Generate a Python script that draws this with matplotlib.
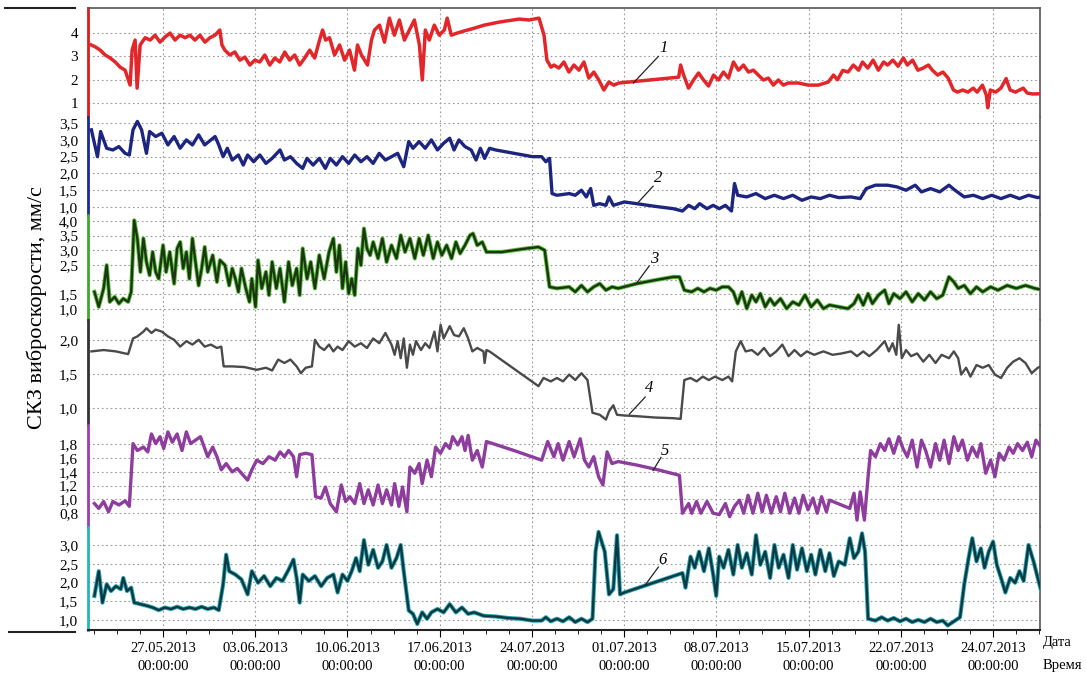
import matplotlib
matplotlib.use("Agg")
import matplotlib.pyplot as plt
from matplotlib.lines import Line2D
from matplotlib.ticker import FixedLocator, FixedFormatter, MultipleLocator

plt.rcParams['font.family'] = ['Liberation Serif', 'DejaVu Serif']

# время: сутки от 27.05.2013 00:00
date_ticks = [0, 7, 14, 21, 28, 35, 42, 49, 56, 63]
date_labels = ['27.05.2013\n00:00:00', '03.06.2013\n00:00:00', '10.06.2013\n00:00:00',
               '17.06.2013\n00:00:00', '24.07.2013\n00:00:00', '01.07.2013\n00:00:00',
               '08.07.2013\n00:00:00', '15.07.2013\n00:00:00', '22.07.2013\n00:00:00',
               '24.07.2013\n00:00:00']

# 1 - красная
t1 = [-5.45, -5.15, -4.77, -4.39, -4.01, -3.63, -3.26, -2.88, -2.5, -2.35, -2.12, -1.97, -1.74, -1.36,
      -0.98, -0.61, -0.23, 0.15, 0.53, 0.91, 1.29, 1.67, 2.04, 2.42, 2.8, 3.18, 3.56, 3.94, 4.31, 4.47,
      4.69, 5.07, 5.45, 5.83, 6.21, 6.59, 6.96, 7.34, 7.72, 8.1, 8.48, 8.86, 9.24, 9.61, 9.99, 10.37,
      10.75, 11.13, 11.51, 11.88, 12.11, 12.34, 12.64, 13.02, 13.4, 13.78, 14.16, 14.53, 14.76, 15.06,
      15.52, 15.82, 16.05, 16.43, 16.81, 17.18, 17.56, 17.94, 18.32, 18.7, 19.08, 19.46, 19.68, 19.91,
      20.21, 20.59, 20.97, 21.35, 21.57, 21.88, 22.33, 22.86, 23.62, 24.38, 25.51, 27.03, 27.78, 28.54,
      28.92, 29.14, 29.45, 29.67, 30.05, 30.43, 30.81, 31.19, 31.57, 31.95, 32.32, 32.7, 33.08, 33.46,
      33.84, 34.22, 34.6, 39.14, 39.29, 39.52, 39.89, 40.27, 40.65, 41.03, 41.41, 41.79, 42.16, 42.54,
      42.92, 43.3, 43.68, 44.06, 44.44, 44.81, 45.19, 45.57, 45.95, 46.33, 46.71, 47.09, 47.46, 48.22,
      48.98, 49.74, 50.49, 50.9, 51.2, 51.6, 52.0, 52.4, 52.8, 53.1, 53.5, 53.9, 54.3, 54.7, 55.0, 55.4,
      55.8, 56.2, 56.5, 56.9, 57.3, 57.7, 58.1, 58.4, 58.8, 59.2, 59.6, 60.0, 60.3, 60.7, 61.1, 61.5,
      61.8, 62.2, 62.5, 62.6, 62.8, 63.2, 63.6, 64.0, 64.3, 64.7, 65.3, 65.6, 66.0, 66.6]
v1 = [3.49, 3.41, 3.27, 3.06, 2.93, 2.76, 2.54, 2.41, 1.77, 3.27, 3.7, 1.64, 3.49, 3.8,
      3.7, 3.91, 3.61, 3.83, 4.0, 3.7, 3.91, 3.8, 3.91, 3.7, 3.91, 3.61, 3.8, 3.91, 4.13, 3.49,
      3.27, 3.06, 3.19, 2.84, 2.97, 2.63, 2.84, 2.76, 3.06, 2.63, 2.93, 2.76, 3.19, 2.84, 3.06, 2.63,
      2.93, 3.27, 2.93, 3.7, 4.13, 3.7, 3.8, 3.06, 3.49, 2.84, 3.27, 2.41, 3.49, 3.06,
      2.63, 3.7, 4.13, 4.34, 3.61, 4.64, 3.91, 4.56, 3.7, 4.13, 4.56, 3.49, 1.99, 4.13,
      3.7, 4.34, 3.91, 4.13, 4.64, 3.91, 4.0, 4.09, 4.21, 4.34, 4.47, 4.6, 4.56, 4.64,
      3.91, 2.84, 2.54, 2.63, 2.5, 2.76, 2.33, 2.63, 2.41, 2.76, 2.07, 2.33, 1.99, 1.56,
      1.9, 1.77, 1.86, 2.11, 2.63, 2.2, 1.64, 1.99, 2.29, 1.99, 1.73, 2.2, 1.99, 2.33,
      2.07, 2.76, 2.41, 2.63, 2.33, 2.41, 2.2, 1.99, 2.07, 1.77, 1.99, 1.77, 1.86, 1.86,
      1.77, 1.77, 1.9, 2.2, 2.0, 2.4, 2.33, 2.63, 2.41, 2.76, 2.5, 2.84, 2.41, 2.76, 2.63, 2.84,
      2.58, 2.93, 2.63, 2.84, 2.41, 2.5, 2.63, 2.41, 2.2, 2.33, 2.07, 1.56, 1.47, 1.56, 1.47, 1.64,
      1.47, 1.77, 1.34, 0.8, 1.56, 1.47, 1.64, 2.05, 1.56, 1.47, 1.64, 1.43, 1.39, 1.4]

# 2 - синяя
t2 = [-5.44, -4.98, -4.74, -4.28, -3.81, -3.35, -2.88, -2.56, -2.28, -1.95, -1.63, -1.26, -1.02, -0.56,
      -0.09, 0.37, 0.84, 1.3, 1.77, 2.23, 2.7, 3.16, 3.63, 3.95, 4.23, 4.56, 4.88, 5.25, 5.72, 6.09,
      6.42, 6.88, 7.35, 7.81, 8.28, 8.88, 9.21, 9.67, 10.14, 10.6, 10.93, 11.39, 11.86, 12.32, 12.69,
      13.16, 13.62, 14.09, 14.55, 15.02, 15.48, 15.95, 16.41, 16.88, 17.34, 17.81, 18.27, 18.65, 18.97,
      19.44, 19.9, 20.37, 20.83, 21.3, 21.76, 22.09, 22.46, 22.92, 23.39, 23.76, 24.09, 24.41, 24.78,
      25.25, 26.64, 28.04, 28.74, 29.06, 29.34, 29.53, 29.9, 30.83, 31.29, 31.76, 32.13, 32.46, 32.69,
      33.15, 33.62, 33.85, 34.18, 35.01, 35.94, 37.34, 38.73, 39.43, 39.9, 40.36, 40.73, 41.29, 41.76,
      42.22, 42.69, 43.15, 43.38, 43.62, 44.31, 45.01, 45.71, 46.41, 47.1, 47.8, 48.5, 49.2, 49.89,
      50.59, 51.29, 52.22, 52.92, 53.38, 54.08, 55.01, 55.71, 56.4, 57.1, 57.57, 58.26, 58.96, 59.66,
      60.12, 60.82, 61.52, 62.22, 62.91, 63.61, 64.31, 65.01, 65.7, 66.4, 66.87]
v2 = [3.3, 2.5, 3.25, 2.75, 2.7, 2.8, 2.6, 2.55, 3.3, 3.55, 3.3, 2.6, 3.25, 3.1,
      3.2, 2.85, 3.1, 2.75, 3.0, 2.85, 3.15, 2.85, 3.0, 3.1, 2.85, 2.5, 2.75, 2.4, 2.55, 2.25,
      2.55, 2.35, 2.55, 2.3, 2.45, 2.7, 2.4, 2.5, 2.3, 2.15, 2.45, 2.25, 2.45, 2.15, 2.45,
      2.25, 2.5, 2.3, 2.55, 2.35, 2.5, 2.3, 2.6, 2.4, 2.5, 2.6, 2.2, 2.95, 2.75,
      2.95, 2.75, 3.0, 2.7, 2.9, 3.05, 2.7, 3.0, 2.8, 2.7, 2.4, 2.75, 2.45, 2.75,
      2.7, 2.6, 2.5, 2.5, 2.35, 2.45, 1.4, 1.35, 1.4, 1.35, 1.5, 1.3, 1.55, 1.05,
      1.1, 1.05, 1.3, 1.05, 1.15, 1.1, 1.02, 0.95, 0.88, 1.05, 0.95, 1.1, 0.95, 1.05,
      0.95, 1.05, 0.88, 1.7, 1.35, 1.3, 1.4, 1.25, 1.35, 1.25, 1.35, 1.2, 1.3, 1.25,
      1.35, 1.28, 1.3, 1.25, 1.55, 1.65, 1.65, 1.6, 1.5, 1.65, 1.45, 1.55, 1.45, 1.65,
      1.5, 1.3, 1.35, 1.25, 1.35, 1.25, 1.35, 1.25, 1.35, 1.28, 1.32]

# 3 - зелёная
t3 = [-5.21, -4.88, -4.51, -4.28, -4.05, -3.67, -3.35, -3.02, -2.65, -2.42, -2.19, -1.95, -1.72, -1.49,
      -1.26, -1.02, -0.79, -0.56, -0.33, 0.0, 0.23, 0.51, 0.84, 1.07, 1.3, 1.53, 1.77, 2.0, 2.23, 2.46,
      2.7, 2.93, 3.16, 3.39, 3.77, 4.09, 4.32, 4.7, 5.02, 5.25, 5.49, 5.72, 5.95, 6.28, 6.56, 6.74,
      7.02, 7.21, 7.49, 7.81, 8.04, 8.28, 8.6, 8.88, 9.21, 9.53, 9.81, 10.14, 10.37, 10.6, 10.93,
      11.21, 11.53, 11.86, 12.23, 12.6, 12.93, 13.16, 13.39, 13.62, 13.86, 14.09, 14.32, 14.55, 14.79,
      15.02, 15.25, 15.48, 15.72, 15.95, 16.32, 16.65, 16.97, 17.34, 17.72, 18.04, 18.37, 18.74, 19.11,
      19.44, 19.76, 20.13, 20.51, 20.83, 21.16, 21.53, 21.9, 22.23, 22.55, 22.92, 23.3, 23.53, 23.85,
      24.23, 24.55, 25.71, 26.64, 27.57, 28.5, 28.97, 29.34, 29.9, 30.83, 31.29, 31.76, 32.22, 32.69,
      33.15, 33.62, 34.08, 34.55, 35.94, 37.34, 38.73, 39.2, 39.57, 40.13, 40.59, 41.06, 41.52, 41.99,
      42.45, 42.92, 43.29, 43.62, 43.94, 44.31, 44.69, 45.01, 45.34, 45.71, 46.08, 46.41, 46.87, 47.34,
      47.8, 48.27, 48.73, 49.2, 49.66, 50.13, 50.59, 51.29, 51.99, 52.45, 52.78, 53.15, 53.52, 53.85,
      54.31, 54.78, 55.1, 55.47, 55.94, 56.4, 56.87, 57.33, 57.8, 58.26, 58.73, 59.19, 59.66, 60.03,
      60.36, 60.82, 61.29, 61.75, 62.22, 62.82, 63.38, 64.08, 64.77, 65.47, 66.17, 66.87]
v3 = [1.58, 1.07, 1.7, 2.49, 1.24, 1.41, 1.18, 1.35, 1.24, 1.58, 4.02, 3.4, 2.26, 3.4,
      2.6, 2.15, 2.94, 2.26, 2.03, 3.17, 2.26, 2.94, 1.86, 3.06, 3.28, 2.38, 2.94, 2.03, 3.4, 2.6,
      1.8, 2.38, 3.11, 2.26, 2.83, 1.92, 2.66, 2.49, 1.8, 2.38, 2.03, 1.58, 2.38, 1.7, 1.24, 2.03,
      1.07, 2.66, 1.7, 2.26, 1.47, 2.6, 1.7, 2.38, 1.24, 2.6, 1.8, 2.38, 1.47, 3.06, 2.03,
      2.6, 1.7, 2.83, 2.03, 2.94, 3.4, 2.26, 3.17, 1.7, 2.6, 1.52, 2.03, 1.47, 3.06,
      2.49, 3.74, 3.06, 2.83, 3.28, 2.72, 3.4, 2.6, 3.17, 2.72, 3.51, 2.94, 3.4, 2.72,
      3.4, 2.83, 3.51, 2.72, 3.28, 2.83, 3.17, 2.72, 3.28, 2.89, 3.17, 3.51, 3.57, 3.17,
      3.28, 2.94, 2.94, 3.0, 3.06, 3.11, 3.0, 1.75, 1.7, 1.75, 1.58, 1.8, 1.58, 1.75,
      1.86, 1.64, 1.75, 1.7, 1.86, 1.98, 2.09, 2.09, 1.64, 1.58, 1.7, 1.58, 1.7, 1.64,
      1.75, 1.75, 1.58, 1.18, 1.58, 1.01, 1.47, 1.24, 1.52, 1.07, 1.35, 1.13, 1.35, 1.01,
      1.24, 1.13, 1.47, 1.07, 1.3, 1.01, 1.13, 1.07, 1.01, 1.18, 1.47, 1.13, 1.52, 1.18,
      1.47, 1.64, 1.18, 1.52, 1.35, 1.58, 1.24, 1.52, 1.3, 1.58, 1.35, 1.47, 2.09, 1.92,
      1.7, 1.8, 1.52, 1.75, 1.58, 1.75, 1.64, 1.8, 1.7, 1.8, 1.7, 1.64]

# 4 - серая
t4 = [-5.44, -4.51, -3.58, -2.65, -2.28, -1.95, -1.49, -1.26, -0.88, -0.56, -0.09, 0.37, 0.84, 1.3,
      1.77, 2.23, 2.7, 3.16, 3.63, 4.09, 4.42, 4.6, 5.25, 6.18, 7.11, 7.81, 8.28, 8.74, 9.21, 9.67,
      10.14, 10.46, 10.83, 11.3, 11.53, 11.86, 12.23, 12.6, 12.93, 13.25, 13.62, 14.09, 14.55, 15.02,
      15.48, 15.95, 16.41, 16.88, 17.34, 17.58, 17.81, 18.04, 18.27, 18.51, 18.74, 18.97, 19.2, 19.58,
      19.9, 20.23, 20.6, 20.83, 21.07, 21.3, 21.76, 22.09, 22.46, 22.83, 23.16, 23.48, 23.85, 24.32,
      24.41, 24.55, 24.78, 28.5, 28.88, 29.43, 29.9, 30.36, 30.83, 31.29, 31.76, 32.22, 32.6, 33.15,
      33.62, 33.85, 34.18, 34.46, 35.01, 35.94, 37.34, 38.73, 39.29, 39.57, 40.04, 40.5, 40.97, 41.43,
      41.9, 42.45, 42.92, 43.2, 43.48, 43.85, 44.22, 44.69, 45.15, 45.62, 46.08, 46.55, 47.01, 47.48,
      47.94, 48.41, 48.87, 49.43, 50.13, 50.82, 51.52, 52.22, 52.68, 53.15, 53.61, 54.17, 54.78, 55.1,
      55.38, 55.66, 55.85, 56.08, 56.4, 56.78, 57.24, 57.71, 58.17, 58.64, 59.1, 59.66, 60.03, 60.36,
      60.59, 60.96, 61.29, 61.75, 62.22, 62.68, 63.15, 63.61, 64.08, 64.54, 65.01, 65.47, 65.94, 66.4,
      66.87]
v4 = [1.83, 1.85, 1.83, 1.79, 2.02, 2.05, 2.12, 2.17, 2.1, 2.15, 2.12, 2.05, 2.0, 1.9,
      1.98, 1.93, 2.0, 1.9, 1.93, 1.88, 1.9, 1.61, 1.61, 1.6, 1.56, 1.59, 1.55, 1.71, 1.66, 1.71,
      1.61, 1.51, 1.59, 1.61, 2.0, 1.9, 1.85, 1.93, 1.83, 1.9, 1.85, 1.98, 1.9, 1.95,
      1.88, 2.02, 1.95, 2.1, 1.93, 1.78, 1.98, 1.73, 2.02, 1.59, 1.93, 1.78, 1.98, 1.85,
      1.95, 1.88, 2.12, 1.83, 2.22, 2.02, 2.2, 2.07, 2.05, 2.17, 2.02, 1.83, 1.88, 1.83,
      1.66, 1.85, 1.83, 1.32, 1.44, 1.39, 1.44, 1.39, 1.49, 1.41, 1.51, 1.41, 0.93, 0.9,
      0.83, 0.95, 1.04, 0.9, 0.89, 0.88, 0.86, 0.85, 0.84, 1.41, 1.44, 1.39, 1.46, 1.41,
      1.46, 1.41, 1.46, 1.39, 1.83, 1.98, 1.83, 1.85, 1.78, 1.88, 1.76, 1.83, 1.93, 1.76,
      1.85, 1.76, 1.83, 1.78, 1.83, 1.78, 1.8, 1.83, 1.76, 1.83, 1.76, 1.85, 1.98, 1.83,
      1.95, 1.78, 2.22, 1.73, 1.85, 1.76, 1.8, 1.68, 1.78, 1.66, 1.78, 1.73, 1.83, 1.73,
      1.49, 1.59, 1.46, 1.63, 1.59, 1.63, 1.49, 1.44, 1.59, 1.68, 1.73, 1.66, 1.51, 1.59,
      1.63]

# 5 - фиолетовая
t5 = [-5.21, -4.88, -4.51, -4.14, -3.81, -3.35, -2.88, -2.56, -2.28, -1.95, -1.49, -1.16, -0.88, -0.56,
      -0.23, 0.05, 0.37, 0.7, 1.07, 1.44, 1.77, 2.09, 2.46, 2.84, 3.16, 3.39, 3.77, 4.09, 4.42, 4.79,
      5.25, 5.63, 6.09, 6.42, 6.74, 7.11, 7.58, 8.04, 8.51, 8.88, 9.21, 9.53, 9.9, 10.14, 10.37, 10.83,
      11.3, 11.58, 12.0, 12.32, 12.69, 13.16, 13.53, 13.86, 14.18, 14.55, 14.93, 15.25, 15.58, 15.95,
      16.32, 16.65, 16.97, 17.34, 17.58, 17.9, 18.18, 18.51, 18.74, 19.11, 19.44, 19.67, 20.04, 20.37,
      20.69, 21.06, 21.44, 21.76, 21.99, 22.37, 22.69, 22.92, 23.16, 23.48, 23.85, 24.23, 24.55, 26.64,
      28.74, 29.2, 29.67, 29.99, 30.36, 30.83, 31.2, 31.67, 31.99, 32.32, 32.69, 33.06, 33.39, 33.71,
      34.08, 34.55, 35.94, 37.57, 39.2, 39.43, 39.9, 40.13, 40.5, 40.83, 41.29, 41.76, 42.22, 42.69,
      43.01, 43.38, 43.76, 44.08, 44.41, 44.78, 45.15, 45.48, 45.8, 46.17, 46.55, 46.87, 47.2, 47.57,
      47.94, 48.27, 48.59, 48.96, 49.34, 49.66, 49.99, 50.36, 50.59, 52.13, 52.45, 52.68, 52.92, 53.24,
      53.52, 53.71, 54.08, 54.45, 54.78, 55.1, 55.47, 55.85, 56.17, 56.5, 56.87, 57.24, 57.57, 57.89,
      58.26, 58.64, 58.96, 59.29, 59.66, 60.03, 60.36, 60.68, 61.06, 61.43, 61.8, 62.08, 62.45, 62.82,
      63.15, 63.47, 63.84, 64.22, 64.54, 64.87, 65.24, 65.61, 65.94, 66.26, 66.63, 66.87]
v5 = [0.94, 0.87, 0.97, 0.82, 0.97, 0.92, 0.98, 0.9, 1.81, 1.71, 1.76, 1.69, 1.95, 1.81,
      1.91, 1.74, 1.98, 1.83, 1.95, 1.71, 1.98, 1.81, 1.86, 1.91, 1.74, 1.62, 1.76, 1.62, 1.43, 1.52,
      1.4, 1.45, 1.35, 1.28, 1.43, 1.57, 1.52, 1.62, 1.57, 1.69, 1.62, 1.71, 1.62, 1.33, 1.65, 1.67,
      1.65, 1.04, 1.02, 1.18, 0.94, 0.82, 1.21, 0.97, 1.04, 0.94, 1.23, 0.94, 1.14, 0.92,
      1.21, 0.94, 1.14, 0.92, 1.23, 0.9, 1.18, 0.82, 1.47, 1.38, 1.52, 1.23, 1.57, 1.33,
      1.76, 1.67, 1.81, 1.74, 1.91, 1.79, 1.91, 1.71, 1.93, 1.57, 1.71, 1.47, 1.84, 1.71,
      1.57, 1.84, 1.62, 1.81, 1.57, 1.84, 1.62, 1.88, 1.57, 1.47, 1.62, 1.33, 1.21, 1.69,
      1.52, 1.55, 1.5, 1.43, 1.35, 0.8, 0.94, 0.8, 0.97, 0.8, 0.97, 0.8, 0.78, 0.94,
      0.75, 0.9, 0.99, 0.8, 1.06, 0.8, 1.09, 0.82, 1.06, 0.8, 1.04, 0.82, 1.09, 0.8,
      1.02, 0.8, 1.06, 0.85, 1.02, 0.8, 1.04, 0.82, 0.99, 0.87, 1.09, 0.7, 1.11, 0.7,
      1.33, 1.71, 1.62, 1.81, 1.71, 1.88, 1.67, 1.91, 1.74, 1.62, 1.86, 1.47, 1.86, 1.71,
      1.47, 1.81, 1.57, 1.86, 1.52, 1.91, 1.71, 1.86, 1.57, 1.76, 1.62, 1.81, 1.38, 1.57,
      1.33, 1.67, 1.57, 1.76, 1.67, 1.81, 1.71, 1.83, 1.62, 1.86, 1.76, 1.81]

# 6 - бирюзовая
t6 = [-5.21, -4.88, -4.6, -4.28, -3.95, -3.58, -3.21, -3.02, -2.74, -2.42, -2.19, -1.72, -1.26, -0.79,
      -0.33, 0.14, 0.6, 1.07, 1.53, 2.0, 2.46, 2.93, 3.39, 3.86, 4.23, 4.56, 4.79, 5.02, 5.49, 5.95,
      6.42, 6.74, 7.21, 7.67, 8.14, 8.6, 9.07, 9.53, 9.9, 10.14, 10.37, 10.6, 11.07, 11.53, 12.0, 12.46,
      12.93, 13.25, 13.62, 14.0, 14.32, 14.65, 14.93, 15.25, 15.58, 15.95, 16.32, 16.65, 16.97, 17.34,
      17.72, 18.04, 18.27, 18.65, 18.97, 19.3, 19.67, 20.04, 20.37, 20.83, 21.3, 21.76, 22.23, 22.69,
      23.16, 23.62, 24.32, 25.25, 26.18, 27.11, 28.04, 28.74, 29.06, 29.43, 29.9, 30.36, 30.83, 31.29,
      31.76, 32.22, 32.6, 32.83, 33.06, 33.29, 33.53, 33.85, 34.18, 34.46, 34.69, 35.01, 36.87, 39.43,
      39.66, 40.04, 40.36, 40.69, 41.06, 41.43, 41.76, 41.99, 42.22, 42.55, 42.92, 43.29, 43.62, 43.94,
      44.31, 44.69, 45.01, 45.34, 45.71, 46.08, 46.41, 46.73, 47.1, 47.48, 47.8, 48.13, 48.5, 48.87,
      49.2, 49.52, 49.89, 50.27, 50.59, 50.92, 51.29, 51.75, 52.13, 52.45, 52.78, 53.06, 53.29, 53.52,
      54.08, 54.54, 55.01, 55.47, 55.94, 56.4, 56.87, 57.33, 57.8, 58.26, 58.73, 59.19, 59.57, 60.12,
      60.5, 60.82, 61.15, 61.43, 61.75, 62.08, 62.36, 62.68, 63.01, 63.29, 63.61, 63.94, 64.31, 64.68,
      65.01, 65.33, 65.7, 66.08, 66.4, 66.73, 66.96]
v6 = [1.64, 2.3, 1.46, 1.95, 1.77, 1.9, 1.82, 2.12, 1.77, 1.86, 1.46, 1.42, 1.38, 1.33,
      1.26, 1.33, 1.29, 1.35, 1.29, 1.33, 1.29, 1.35, 1.29, 1.33, 1.26, 1.95, 2.74, 2.3, 2.21, 2.08,
      1.68, 2.3, 1.99, 2.17, 1.9, 2.12, 2.04, 2.34, 2.61, 2.12, 1.46, 2.21, 2.04, 2.17, 1.9, 2.12,
      2.21, 1.73, 2.21, 2.04, 2.3, 2.65, 2.3, 3.13, 2.47, 2.87, 2.39, 2.56, 3.0, 2.39,
      2.65, 3.0, 2.3, 1.25, 1.16, 0.89, 1.2, 1.03, 1.2, 1.29, 1.2, 1.42, 1.2, 1.33,
      1.16, 1.2, 1.11, 1.09, 1.05, 1.03, 0.98, 0.98, 1.07, 0.96, 1.03, 0.96, 1.07, 0.94,
      1.03, 0.94, 1.03, 2.82, 3.35, 3.09, 2.82, 1.68, 1.82, 3.26, 1.68, 1.73, 1.95, 2.25,
      1.86, 2.69, 2.39, 2.82, 2.3, 2.91, 2.21, 1.64, 2.69, 2.39, 2.87, 2.21, 3.0, 2.39,
      2.78, 2.21, 3.26, 2.47, 2.82, 2.12, 3.0, 2.39, 2.74, 2.12, 3.0, 2.34, 2.91, 2.3,
      2.74, 2.21, 2.87, 2.3, 2.78, 2.17, 2.56, 2.47, 3.18, 2.65, 2.82, 3.31, 2.82, 1.03,
      0.98, 1.07, 0.98, 1.05, 0.96, 1.03, 0.94, 1.0, 0.94, 1.03, 0.94, 0.98, 0.85, 0.98,
      1.07, 1.95, 2.65, 3.18, 2.56, 2.91, 2.39, 2.82, 3.09, 2.47, 2.12, 1.73, 2.12, 1.99,
      2.3, 2.04, 3.0, 2.56, 2.12, 1.68, 1.86]

series = [
    # t, v, ylim, ticks, labels, core color, edge color, spine color, lw
    (t1, v1, (0.4, 5.07), [1, 2, 3, 4], ['1', '2', '3', '4'], '#e3262a', None, '#e01b1b', 2.5),
    (t2, v2, (0.76, 3.68), [1.0, 1.5, 2.0, 2.5, 3.0, 3.5], ['1,0', '1,5', '2,0', '2,5', '3,0', '3,5'],
     '#1c2580', None, '#1a2a9a', 2.4),
    (t3, v3, (0.62, 4.2), [1.0, 1.5, 2.0, 2.5, 3.0, 3.5, 4.0], ['1,0', '1,5', '', '2,5', '3,0', '3,5', '4,0'],
     '#1c3512', '#58c23a', '#3da82a', 1.7),
    (t4, v4, (0.75, 2.29), [1.0, 1.5, 2.0], ['1,0', '1,5', '2,0'], '#4a4a4a', None, '#333333', 1.7),
    (t5, v5, (0.6, 2.08), [0.8, 1.0, 1.2, 1.4, 1.6, 1.8], ['0,8', '1,0', '1,2', '1,4', '1,6', '1,8'],
     '#8e3c9e', None, '#9b3fb0', 2.4),
    (t6, v6, (0.73, 3.48), [1.0, 1.5, 2.0, 2.5, 3.0], ['1,0', '1,5', '2,0', '2,5', '3,0'],
     '#0f3840', '#27a9b8', '#21b5c0', 1.7),
]

# номера кривых: (текст x, y), (линия от x, y), (линия до x, y)
marks = [
    ('1', (38.0, 3.36), (37.6, 3.0), (35.7, 1.86)),
    ('2', (37.6, 1.86), (37.2, 1.62), (36.1, 1.15)),
    ('3', (37.3, 2.7), (36.9, 2.46), (35.9, 1.85)),
    ('4', (36.9, 1.29), (36.6, 1.16), (35.4, 0.91)),
    ('5', (38.1, 1.71), (37.8, 1.61), (37.2, 1.42)),
    ('6', (37.9, 2.6), (37.6, 2.41), (36.6, 1.93)),
]

fig = plt.figure(figsize=(10.86, 6.75), dpi=100)
gs = fig.add_gridspec(6, 1, height_ratios=[109, 98, 105, 105, 102, 103], hspace=0,
                      left=0.081, right=0.958, top=0.988, bottom=0.0667)

axes = []
for i, (t, v, ylim, ticks, labels, col, edge, spine_col, lw) in enumerate(series):
    ax = fig.add_subplot(gs[i], sharex=axes[0] if axes else None)
    axes.append(ax)
    if edge:
        ax.plot(t, v, color=edge, lw=lw + 1.3, solid_joinstyle='round', zorder=3)
    ax.plot(t, v, color=col, lw=lw, solid_joinstyle='round', zorder=4)
    ax.set_ylim(*ylim)
    ax.yaxis.set_major_locator(FixedLocator(ticks))
    ax.yaxis.set_major_formatter(FixedFormatter(labels))
    ax.tick_params(axis='y', length=0, pad=7, labelsize=11)
    ax.grid(True, ls=(0, (1.5, 2.5)), color='#999999', lw=0.8)
    ax.set_axisbelow(True)
    for s in ['top', 'bottom']:
        ax.spines[s].set_visible(False)
    ax.spines['left'].set_color(spine_col)
    ax.spines['left'].set_linewidth(2)
    ax.spines['right'].set_color('#555555')
    ax.spines['right'].set_linewidth(1.2)
    txt, pt, p0, p1 = marks[i]
    ax.plot([p0[0], p1[0]], [p0[1], p1[1]], color='#222222', lw=0.9, zorder=5)
    ax.text(pt[0], pt[1], txt, style='italic', fontsize=12, ha='center', va='center', zorder=6)
    if i < 5:
        ax.tick_params(axis='x', which='both', length=0, labelbottom=False)

axes[0].spines['top'].set_visible(True)
axes[0].spines['top'].set_color('#555555')
axes[0].spines['top'].set_linewidth(1.2)

bax = axes[-1]
bax.set_xlim(-5.7, 66.6)
bax.xaxis.set_major_locator(FixedLocator(date_ticks))
bax.xaxis.set_major_formatter(FixedFormatter(date_labels))
bax.xaxis.set_minor_locator(MultipleLocator(1.75))
bax.spines['bottom'].set_visible(True)
bax.spines['bottom'].set_color('#222222')
bax.spines['bottom'].set_linewidth(1.5)
bax.tick_params(axis='x', which='major', length=5, labelsize=10.5, pad=4)
bax.tick_params(axis='x', which='minor', length=3)
for lab in bax.get_xticklabels():
    lab.set_linespacing(1.45)

fig.text(0.9605, 0.0475, 'Дата', fontsize=10.5, ha='left', va='center')
fig.text(0.9605, 0.0145, 'Время', fontsize=10.5, ha='left', va='center')
fig.text(0.034, 0.544, 'СКЗ виброскорости, мм/с', fontsize=16, rotation=90, ha='center', va='center')

# штрихи слева сверху и снизу
fig.add_artist(Line2D([0.005, 0.069], [0.988, 0.988], color='#222222', lw=1.5))
fig.add_artist(Line2D([0.008, 0.069], [0.064, 0.064], color='#222222', lw=1.5))

fig.savefig('out.png', dpi=100)
